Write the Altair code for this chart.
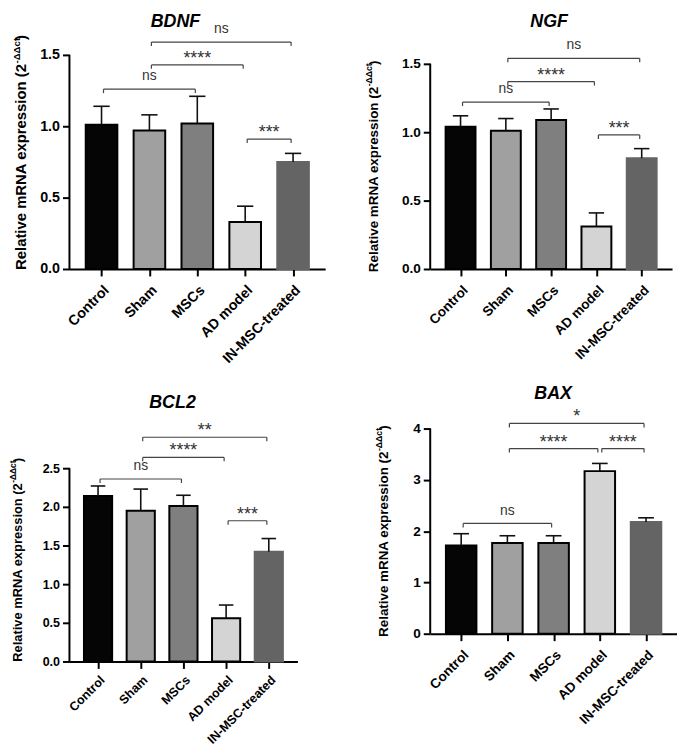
import altair as alt
import pandas as pd

categories = ["Control", "Sham", "MSCs", "AD model", "IN-MSC-treated"]
bar_fill = ["#050505", "#a0a0a0", "#7f7f7f", "#d4d4d4", "#646464"]
bar_edge = ["#000000", "#000000", "#000000", "#000000", "#646464"]

# ---- values (mean and upper error length) ----
bdnf_mean = [1.01, 0.97, 1.02, 0.33, 0.75]
bdnf_err = [0.13, 0.11, 0.19, 0.11, 0.06]
ngf_mean = [1.04, 1.01, 1.09, 0.31, 0.81]
ngf_err = [0.08, 0.09, 0.08, 0.10, 0.07]
bcl2_mean = [2.14, 1.95, 2.01, 0.56, 1.42]
bcl2_err = [0.13, 0.28, 0.14, 0.17, 0.17]
bax_mean = [1.72, 1.77, 1.77, 3.17, 2.18]
bax_err = [0.23, 0.14, 0.14, 0.15, 0.08]

# ---- significance brackets: start group, end group, height, label ----
bdnf_br_start = [1, 1, 0, 3]
bdnf_br_end = [4, 3, 2, 4]
bdnf_br_level = [1.59, 1.43, 1.26, 0.91]
bdnf_br_label = ["ns", "****", "ns", "***"]

ngf_br_start = [1, 1, 0, 3]
ngf_br_end = [4, 3, 2, 4]
ngf_br_level = [1.54, 1.37, 1.22, 0.98]
ngf_br_label = ["ns", "****", "ns", "***"]

bcl2_br_start = [1, 1, 0, 3]
bcl2_br_end = [4, 3, 2, 4]
bcl2_br_level = [2.90, 2.64, 2.36, 1.82]
bcl2_br_label = ["**", "****", "ns", "***"]

bax_br_start = [1, 1, 3, 0]
bax_br_end = [4, 3, 4, 2]
bax_br_level = [4.10, 3.61, 3.61, 2.15]
bax_br_label = ["*", "****", "****", "ns"]

bdnf_ticks = [0.0, 0.5, 1.0, 1.5]
ngf_ticks = [0.0, 0.5, 1.0, 1.5]
bcl2_ticks = [0.0, 0.5, 1.0, 1.5, 2.0, 2.5]
bax_ticks = [0, 1, 2, 3, 4]

FONT = "Liberation Sans"
label_expr = "[" + ",".join("'%s'" % c for c in categories) + "][datum.value]"


def panel(gene, means, errs, bs, be, bl, blab, ticks, fmt, ymax, width, height,
          title_x, title_y, yt_fs, yt_center, yt_x, lab_fs, lab_pad):
    bars_df = pd.DataFrame({"idx": list(range(len(categories))), "cat": categories,
                            "mean": means, "err": errs})
    br_df = pd.DataFrame({"start": bs, "end": be, "level": bl, "label": blab})

    xscale = alt.Scale(domain=[-0.67, 4.67], nice=False, zero=False)
    yscale = alt.Scale(domain=[0, ymax], nice=False, zero=True)
    xaxis = alt.Axis(values=list(range(len(categories))), labelExpr=label_expr,
                     labelAngle=-45, title=None, grid=False, labelFont=FONT,
                     labelFontSize=lab_fs, labelFontWeight="bold", labelColor="black",
                     domainColor="black", domainWidth=2, tickColor="black", tickWidth=2,
                     tickSize=7, labelPadding=lab_pad, labelFlush=False, labelOverlap=False)
    yaxis = alt.Axis(values=ticks, format=fmt, title=None, grid=False, domain=False,
                     labelFont=FONT, labelFontSize=lab_fs, labelFontWeight="bold",
                     labelColor="black", tickColor="black", tickWidth=2, tickSize=7,
                     labelPadding=3, labelFlush=False, labelOverlap=False)

    def X(f):
        return alt.X(f, scale=xscale, axis=xaxis)

    def Y(f):
        return alt.Y(f, scale=yscale, axis=yaxis)

    base = alt.Chart(bars_df).transform_calculate(
        lo="datum.idx - 0.33", hi="datum.idx + 0.33",
        cl="datum.idx - 0.17", cr="datum.idx + 0.17",
        upper="datum.mean + datum.err", zero="0")

    bars = base.mark_bar(strokeWidth=2).encode(
        x=X("lo:Q"), x2="hi:Q",
        y=Y("mean:Q"), y2="zero:Q",
        fill=alt.Fill("cat:N", scale=alt.Scale(domain=categories, range=bar_fill), legend=None),
        stroke=alt.Stroke("cat:N", scale=alt.Scale(domain=categories, range=bar_edge), legend=None),
    )
    err_line = base.mark_rule(color="#111111", strokeWidth=1.6).encode(
        x=X("idx:Q"), y=Y("mean:Q"), y2="upper:Q")
    err_cap = base.mark_rule(color="#111111", strokeWidth=1.6).encode(
        x=X("cl:Q"), x2="cr:Q", y=Y("upper:Q"))

    yline = alt.Chart(pd.DataFrame({"lo": [ticks[0]], "hi": [ticks[-1]]})).mark_rule(
        color="black", strokeWidth=2).encode(
        x=alt.value(0), y=Y("lo:Q"), y2="hi:Q")

    br = alt.Chart(br_df)
    br_h = br.mark_rule(color="#444444", strokeWidth=1.2, xOffset=2, x2Offset=-2).encode(
        x=X("start:Q"), x2="end:Q", y=Y("level:Q"))
    br_l = br.mark_rule(color="#444444", strokeWidth=1.2, xOffset=2, y2Offset=4).encode(
        x=X("start:Q"), y=Y("level:Q"), y2="level:Q")
    br_r = br.mark_rule(color="#444444", strokeWidth=1.2, xOffset=-2, y2Offset=4).encode(
        x=X("end:Q"), y=Y("level:Q"), y2="level:Q")
    br_txt = br.transform_calculate(mid="(datum.start + datum.end) / 2")
    ns_txt = br_txt.transform_filter("datum.label == 'ns'").mark_text(
        font=FONT, fontSize=14, color="#333333", baseline="alphabetic", dy=-9).encode(
        x=X("mid:Q"), y=Y("level:Q"), text="label:N")
    st_txt = br_txt.transform_filter("datum.label != 'ns'").mark_text(
        font=FONT, fontSize=18, color="#333333", baseline="alphabetic", dy=-1).encode(
        x=X("mid:Q"), y=Y("level:Q"), text="label:N")

    title = alt.Chart(pd.DataFrame({"t": [gene]})).mark_text(
        font=FONT, fontSize=18, fontWeight="bold", fontStyle="italic", color="black",
        align="center", baseline="middle").encode(
        x=alt.value(title_x), y=alt.value(title_y), text="t:N")

    # y-axis title with superscript
    main_txt = "Relative mRNA expression (2"
    sup_txt = "-\u0394\u0394ct"
    sup_fs = yt_fs * 0.65
    main_w = 13.893 * yt_fs
    sup_w = 2.45 * sup_fs
    par_w = 0.333 * yt_fs
    total = main_w + sup_w + par_w
    junction = yt_center + total / 2 - main_w
    yt_main = alt.Chart(pd.DataFrame({"t": [main_txt]})).mark_text(
        font=FONT, fontSize=yt_fs, fontWeight="bold", color="black", angle=270,
        align="right", baseline="alphabetic").encode(
        x=alt.value(yt_x), y=alt.value(junction), text="t:N")
    yt_sup = alt.Chart(pd.DataFrame({"t": [sup_txt]})).mark_text(
        font=FONT, fontSize=sup_fs, fontWeight="bold", color="black", angle=270,
        align="left", baseline="alphabetic").encode(
        x=alt.value(yt_x - 0.42 * yt_fs), y=alt.value(junction - 0.5), text="t:N")
    yt_par = alt.Chart(pd.DataFrame({"t": [")"]})).mark_text(
        font=FONT, fontSize=yt_fs, fontWeight="bold", color="black", angle=270,
        align="left", baseline="alphabetic").encode(
        x=alt.value(yt_x), y=alt.value(junction - sup_w - 0.5), text="t:N")

    return alt.layer(bars, err_line, err_cap, yline, br_h, br_l, br_r, ns_txt, st_txt,
                     title, yt_main, yt_sup, yt_par).properties(width=width, height=height)


bdnf = panel("BDNF", bdnf_mean, bdnf_err, bdnf_br_start, bdnf_br_end, bdnf_br_level,
             bdnf_br_label, bdnf_ticks, ".1f", 1.5, 258, 216, 107, -33, 15, 99, -44, 14.4, 7)
ngf = panel("NGF", ngf_mean, ngf_err, ngf_br_start, ngf_br_end, ngf_br_level,
            ngf_br_label, ngf_ticks, ".1f", 216 / 138, 244, 216, 120, -33, 13.5, 113, -53, 13.7, 7)
bcl2 = panel("BCL2", bcl2_mean, bcl2_err, bcl2_br_start, bcl2_br_end, bcl2_br_level,
             bcl2_br_label, bcl2_ticks, ".1f", 235 / 78, 230, 235, 104, -26, 13, 133, -48, 12.6, 5)
bax = panel("BAX", bax_mean, bax_err, bax_br_start, bax_br_end, bax_br_level,
            bax_br_label, bax_ticks, "d", 4, 249, 207, 124, -35, 13.5, 104, -43, 13.7, 7)

chart = alt.concat(bdnf, ngf, bcl2, bax, columns=2,
                   spacing={"row": 20, "column": 40}).properties(
    padding={"left": 1, "top": 2, "right": 0, "bottom": 0}, background="white"
).configure_view(stroke=None)

chart.save("out.html", embed_options={"renderer": "svg", "actions": False})
